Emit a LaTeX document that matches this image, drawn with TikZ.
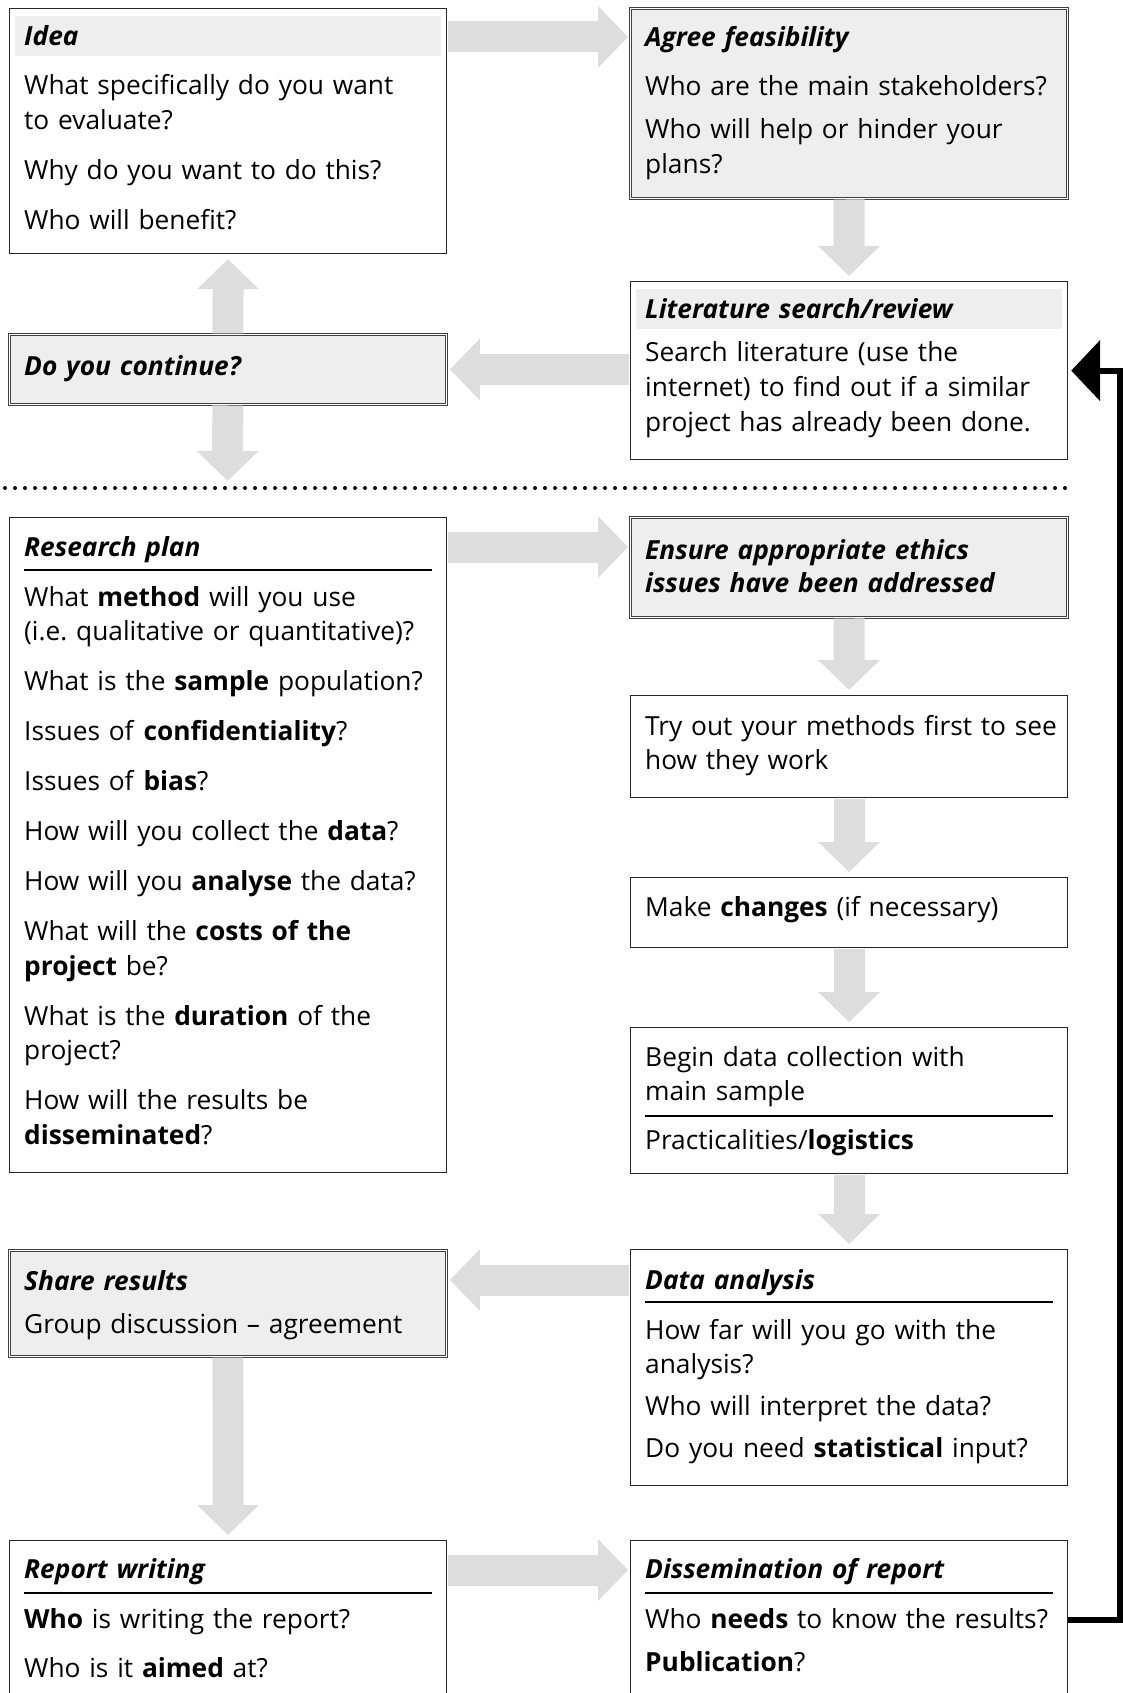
\documentclass[tikz,border=0pt]{standalone}
\usepackage{fontspec}
\setmainfont{Open Sans}
\usetikzlibrary{arrows.meta}
\definecolor{arrowgray}{HTML}{DDDDDD}
\definecolor{boxgray}{HTML}{EEEEEE}

\begin{document}
\begin{tikzpicture}[x=1pt, y=-1pt,
        box/.style={rectangle, draw=black!85, line width=1.2pt, minimum width=437pt, anchor=north west, inner sep=0pt},
        greybox/.style={box, fill=boxgray, draw=black!75, line width=0.9pt, double=white, double distance=1.4pt},
        txt/.style={anchor=base west, inner sep=0pt, yshift=-2pt, text width=425pt, align=left, font=\fontsize{26.3}{34.5}\selectfont},
        band/.style={fill=boxgray},
        rule/.style={draw=black, line width=1.2pt},
        fat/.style={draw=arrowgray, line width=31pt, shorten <=0.6pt, -{Triangle[length=30pt, width=60pt]}},
        feedback/.style={draw=black, line width=6pt, -{Triangle[length=29pt, width=60pt]}},
        dots/.style={line width=4pt, line cap=round, dash pattern=on 0pt off 10pt}]

        \useasboundingbox (0,0) rectangle (1123,1693);

        % Top part
        \node[box, minimum height=245pt] (idea) at (9,8) {};
        \node[greybox, minimum height=190pt] (feas) at (630,8) {};
        \node[box, minimum height=178pt] (lit) at (630,281) {};
        \node[greybox, minimum height=70pt] (cont) at (9,334) {};

        % Divider
        \coordinate (divider) at (227.5,488);
        \draw[dots] (5,488) -- (1069,488);

        % Planning and fieldwork
        \node[box, minimum height=655pt] (plan) at (9,517) {};
        \node[greybox, minimum height=100pt] (ethics) at (630,517) {};
        \node[box, minimum height=102pt] (tryout) at (630,695) {};
        \node[box, minimum height=70pt] (changes) at (630,877) {};
        \node[box, minimum height=146pt] (collect) at (630,1027) {};

        % Results
        \node[greybox, minimum height=106pt] (share) at (9,1250) {};
        \node[box, minimum height=236pt] (analysis) at (630,1249) {};
        \node[box, minimum height=170pt] (report) at (9,1540) {};
        \node[box, minimum height=170pt] (dissem) at (630,1540) {};

        % Header bands and rules
        \fill[band] ([xshift=6pt,yshift=-8pt]idea.north west) rectangle ([xshift=-6pt,yshift=-48pt]idea.north east);
        \fill[band] ([xshift=6pt,yshift=-8pt]lit.north west) rectangle ([xshift=-6pt,yshift=-48pt]lit.north east);
        \draw[rule] ([xshift=15pt,yshift=-53pt]plan.north west) -- ([xshift=-15pt,yshift=-53pt]plan.north east);
        \draw[rule] ([xshift=15pt,yshift=-89pt]collect.north west) -- ([xshift=-15pt,yshift=-89pt]collect.north east);
        \draw[rule] ([xshift=15pt,yshift=-53pt]analysis.north west) -- ([xshift=-15pt,yshift=-53pt]analysis.north east);
        \draw[rule] ([xshift=15pt,yshift=-53pt]report.north west) -- ([xshift=-15pt,yshift=-53pt]report.north east);
        \draw[rule] ([xshift=15pt,yshift=-53pt]dissem.north west) -- ([xshift=-15pt,yshift=-53pt]dissem.north east);

        % Box texts
        \node[txt] (ideatext) at (24,44) {\textbf{\textit{Idea}}\\[14.5pt]
            What specifically do you want\\to evaluate?\\[15.5pt]
            Why do you want to do this?\\[15.5pt]
            Who will benefit?};
        \node[txt] (feastext) at (645,45) {\textbf{\textit{Agree feasibility}}\\[14.5pt]
            Who are the main stakeholders?\\[8.5pt]
            Who will help or hinder your\\plans?};
        \node[txt] (littext) at (645,317) {\textbf{\textit{Literature search/review}}\\[8.5pt]
            Search literature (use the\\internet) to find out if a similar\\project has already been done.};
        \node[txt] (conttext) at (24,373) {\textbf{\textit{Do you continue?}}};
        \node[txt] (plantext) at (24,554) {\textbf{\textit{Research plan}}\\[15.5pt]
            What \textbf{method} will you use\\(i.e.\ qualitative or quantitative)?\\[15.5pt]
            What is the \textbf{sample} population?\\[15.5pt]
            Issues of \textbf{confidentiality}?\\[15.5pt]
            Issues of \textbf{bias}?\\[15.5pt]
            How will you collect the \textbf{data}?\\[15.5pt]
            How will you \textbf{analyse} the data?\\[15.5pt]
            What will the \textbf{costs of the}\\\textbf{project} be?\\[15.5pt]
            What is the \textbf{duration} of the\\project?\\[15.5pt]
            How will the results be\\\textbf{disseminated}?};
        \node[txt] (ethicstext) at (645,557) {\textbf{\textit{Ensure appropriate ethics}}\\[-1.5pt]
            \textbf{\textit{issues have been addressed}}};
        \node[txt] (tryouttext) at (645,733) {Try out your methods first to see\\how they work};
        \node[txt] (changestext) at (645,914) {Make \textbf{changes} (if necessary)};
        \node[txt] (collecttext) at (645,1064) {Begin data collection with\\main sample\\[14.5pt]
            Practicalities/\textbf{logistics}};
        \node[txt] (sharetext) at (24,1288) {\textbf{\textit{Share results}}\\[8.5pt]
            Group discussion -- agreement};
        \node[txt] (analysistext) at (645,1287) {\textbf{\textit{Data analysis}}\\[15.5pt]
            How far will you go with the\\analysis?\\[7.5pt]
            Who will interpret the data?\\[7.5pt]
            Do you need \textbf{statistical} input?};
        \node[txt] (reporttext) at (24,1576) {\textbf{\textit{Report writing}}\\[15.5pt]
            \textbf{Who} is writing the report?\\[14.5pt]
            Who is it \textbf{aimed} at?};
        \node[txt] (dissemtext) at (645,1576) {\textbf{\textit{Dissemination of report}}\\[15.5pt]
            Who \textbf{needs} to know the results?\\[8.5pt]
            \textbf{Publication}?};

        % Draw arrows
        \draw[fat, shorten >=2pt] ([yshift=-29pt]idea.north east) -- ([yshift=-29pt]feas.north west);
        \draw[fat, shorten >=5pt] (feas) -- (lit);
        \draw[fat, shorten >=3pt] (lit.west |- cont.east) -- (cont.east);
        \draw[fat, shorten >=5pt] (cont) -- (idea);
        \draw[fat, shorten >=7pt] (cont) -- (divider);
        \draw[fat, shorten >=2pt] ([yshift=-30pt]plan.north east) -- ([yshift=-30pt]ethics.north west);
        \draw[fat, shorten >=5pt] (ethics) -- (tryout);
        \draw[fat, shorten >=5pt] (tryout) -- (changes);
        \draw[fat, shorten >=5pt] (changes) -- (collect);
        \draw[fat, shorten >=5pt] (collect) -- (analysis);
        \draw[fat, shorten >=3pt] ([yshift=-31pt]analysis.north west) -- ([yshift=-30pt]share.north east);
        \draw[fat, shorten >=5pt] (share) -- (report);
        \draw[fat, shorten >=2pt] ([yshift=-30pt]report.north east) -- ([yshift=-30pt]dissem.north west);
        \draw[feedback, shorten >=3pt] ([yshift=-80pt]dissem.north east) -- ++(52,0) |- (lit.east);

\end{tikzpicture}
\end{document}
